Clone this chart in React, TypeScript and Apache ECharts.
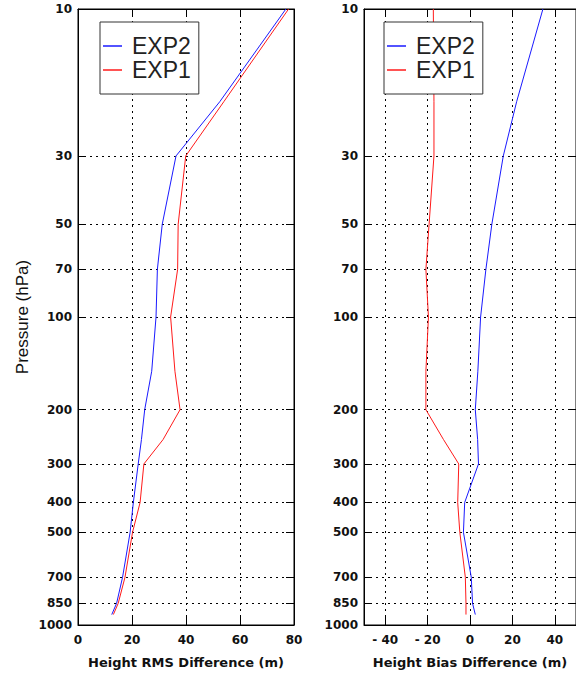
import React, { useEffect, useRef } from "react";
import * as echarts from "echarts";

// Pressure levels (hPa)
const levels = [10, 20, 30, 50, 70, 100, 150, 200, 250, 300, 400, 500, 700, 850, 925];
// Height RMS difference (m)
const rmsExp2 = [77, 52.5, 36.3, 31.2, 29.4, 28.9, 27.3, 24.7, 23.5, 22.3, 20.5, 19.3, 16.5, 14.3, 12.5];
const rmsExp1 = [78, 54, 39.9, 37.1, 36.9, 34.3, 35.9, 37.8, 31.5, 24.4, 23, 20.2, 17.4, 14.9, 13.1];
// Height bias difference (m)
const biasExp2 = [34.4, 22, 15.7, 10.3, 7.5, 5.0, 3.7, 2.5, 3.6, 4.0, -2.5, -3.1, 0.6, 1.2, 2.5];
const biasExp1 = [-17.3, -17, -17, -19.3, -20.8, -19.6, -20.8, -20.8, -12.5, -5.3, -5.8, -4.8, -2.2, -1.9, -1.9];

const pressureTicks = [10, 30, 50, 70, 100, 200, 300, 400, 500, 700, 850, 1000];
const rmsTicks = [0, 20, 40, 60, 80];
const biasTicks = [-40, -20, 0, 20, 40];

const BLUE = "#1a1aff";
const RED = "#ff1a1a";
const tickFont = { fontFamily: "DejaVu Sans", fontSize: 12, fontWeight: "bold" as const, color: "#111" };
const gridLine = { show: true, lineStyle: { color: "#000", type: [2, 4] as any, width: 1 } };
const axisLine = { show: true, onZero: false, lineStyle: { color: "#000", width: 1 } };
const tick = { show: true, inside: true, length: 8, lineStyle: { color: "#000", width: 1 } };

function yAxisDef(gridIndex: number, position: string, withLabels: boolean, extra: any = {}) {
  return {
    type: "log",
    gridIndex,
    position,
    min: 10,
    max: 1000,
    inverse: true,
    axisLine,
    axisTick: { ...tick, customValues: pressureTicks },
    axisLabel: withLabels
      ? { ...tickFont, margin: 6, customValues: pressureTicks, formatter: (v: number) => String(Math.round(v)) }
      : { show: false },
    minorTick: { show: false },
    minorSplitLine: { show: false },
    splitLine: withLabels ? gridLine : { show: false },
    ...extra,
  };
}

function xAxisDef(gridIndex: number, position: string, withLabels: boolean, min: number, max: number, ticks: number[], name?: string) {
  return {
    type: "value",
    gridIndex,
    position,
    min,
    max,
    axisLine,
    axisTick: { ...tick, customValues: ticks },
    axisLabel: withLabels
      ? {
          ...tickFont,
          margin: 9,
          customValues: ticks,
          formatter: (v: number) => (v < 0 ? "- " + Math.abs(v) : String(v)),
        }
      : { show: false },
    splitLine: withLabels ? gridLine : { show: false },
    name: name || "",
    nameLocation: "middle",
    nameGap: 31,
    nameTextStyle: { fontFamily: "DejaVu Sans", fontSize: 13, fontWeight: "bold", color: "#111" },
  };
}

function legendDef(left: number) {
  return {
    left,
    top: 22,
    orient: "vertical",
    data: ["EXP2", "EXP1"],
    icon: "rect",
    itemWidth: 19,
    itemHeight: 1.5,
    itemGap: 0,
    padding: [12, 8, 12, 3],
    borderColor: "#333",
    borderWidth: 1,
    backgroundColor: "#fff",
    textStyle: {
      fontFamily: "Liberation Sans",
      fontSize: 23,
      lineHeight: 24,
      color: "#222",
      padding: [0, 0, 0, 5],
    },
  };
}

export default function App() {
  const ref = useRef<HTMLDivElement>(null);
  useEffect(() => {
    if (!ref.current) return;
    const chart = echarts.init(ref.current, undefined, { renderer: "svg" });
    const mk = (xs: number[]) => xs.map((x, i) => [x, levels[i]]);
    chart.setOption({
      animation: false,
      backgroundColor: "#fff",
      grid: [
        { left: 78, top: 9, width: 216, height: 617, show: true, borderColor: "#000", borderWidth: 1, backgroundColor: "transparent" },
        { left: 364, top: 9, width: 214, height: 617, show: true, borderColor: "#000", borderWidth: 1, backgroundColor: "transparent" },
      ],
      legend: [legendDef(100), legendDef(384)],
      xAxis: [
        xAxisDef(0, "bottom", true, 0, 80, rmsTicks, "Height RMS Difference (m)"),
        xAxisDef(0, "top", false, 0, 80, rmsTicks),
        xAxisDef(1, "bottom", true, -50, 50, biasTicks, "Height Bias Difference (m)"),
        xAxisDef(1, "top", false, -50, 50, biasTicks),
      ],
      yAxis: [
        yAxisDef(0, "left", true, {
          name: "Pressure (hPa)",
          nameLocation: "middle",
          nameGap: 47,
          nameTextStyle: { fontFamily: "Liberation Sans", fontSize: 17, color: "#111" },
        }),
        yAxisDef(0, "right", false),
        yAxisDef(1, "left", true),
        yAxisDef(1, "right", false),
      ],
      series: [
        { name: "EXP2", type: "line", xAxisIndex: 0, yAxisIndex: 0, data: mk(rmsExp2), color: BLUE, showSymbol: false, lineStyle: { width: 1, color: BLUE } },
        { name: "EXP1", type: "line", xAxisIndex: 0, yAxisIndex: 0, data: mk(rmsExp1), color: RED, showSymbol: false, lineStyle: { width: 1, color: RED } },
        { name: "EXP2", type: "line", xAxisIndex: 2, yAxisIndex: 2, data: mk(biasExp2), color: BLUE, showSymbol: false, lineStyle: { width: 1, color: BLUE } },
        { name: "EXP1", type: "line", xAxisIndex: 2, yAxisIndex: 2, data: mk(biasExp1), color: RED, showSymbol: false, lineStyle: { width: 1, color: RED } },
      ],
    });
    return () => chart.dispose();
  }, []);
  return (
    <div
      ref={ref}
      style={{ position: "absolute", left: 0, top: 0, width: 576, height: 674, background: "#fff" }}
    />
  );
}
